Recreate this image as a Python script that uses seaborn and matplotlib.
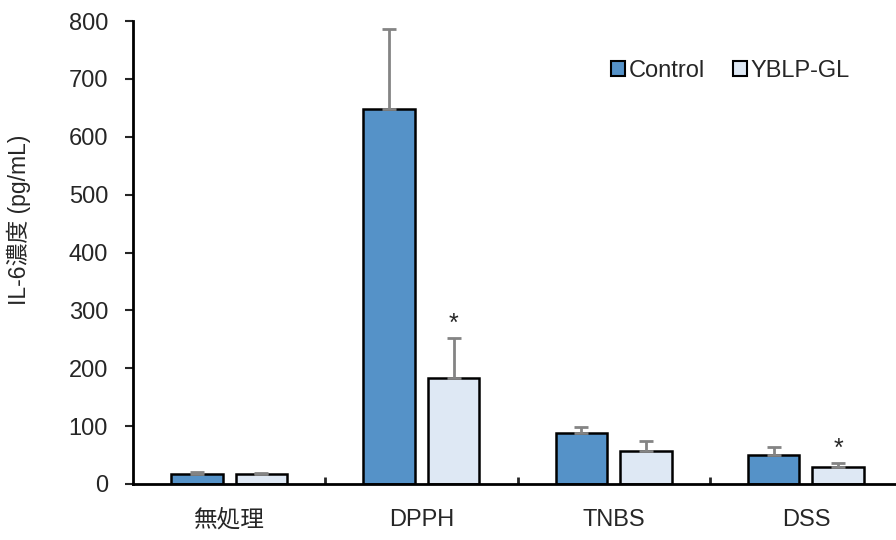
import matplotlib
matplotlib.use("Agg")
import matplotlib.pyplot as plt
import matplotlib.patches as mpatches
import numpy as np
import pandas as pd
import seaborn as sns

# Data
groups = ["無処理", "DPPH", "TNBS", "DSS"]
series = ["Control", "YBLP-GL"]
control_mean = [17, 648, 88, 50]
control_sd = [3, 138, 10, 14]
yblp_mean = [17, 183, 57, 29]
yblp_sd = [2, 69, 17, 7]
significant = [False, True, False, True]  # YBLP-GL vs Control

colors = {"Control": "#5592C8", "YBLP-GL": "#DEE8F4"}

df = pd.DataFrame({
    "group": groups * 2,
    "series": [series[0]] * 4 + [series[1]] * 4,
    "value": control_mean + yblp_mean,
    "sd": control_sd + yblp_sd,
})

sns.set_style("white")
plt.rcParams["font.family"] = ["Liberation Sans", "Noto Sans CJK JP"]

fig = plt.figure(figsize=(8.96, 5.4), dpi=100)
ax = fig.add_axes([133 / 896, 56 / 540, 769 / 896, 463 / 540])

sns.barplot(data=df, x="group", y="value", hue="series", order=groups,
            hue_order=series, palette=colors, width=0.67, gap=0.2,
            edgecolor="black", linewidth=1.8, saturation=1, errorbar=None,
            legend=False, ax=ax)

# error bars (upper only), taken from patch positions
for i, s in enumerate(series):
    means = control_mean if i == 0 else yblp_mean
    sds = control_sd if i == 0 else yblp_sd
    cont = ax.containers[i]
    xs = [p.get_x() + p.get_width() / 2 for p in cont]
    ax.errorbar(xs, means, yerr=[np.zeros(len(sds)), sds], fmt="none",
                ecolor="#848484", elinewidth=2, capsize=5, capthick=2, zorder=1)
    if i == 1:
        for x, m, sd, sig in zip(xs, means, sds, significant):
            if sig:
                ax.text(x, m + sd + 24, "*", ha="center", va="center", fontsize=18)

ax.set_xlim(-0.5, 3.5)
ax.set_ylim(0, 800)
ax.set_yticks(range(0, 801, 100))
ax.set_xlabel("")
ax.set_ylabel("IL-6濃度 (pg/mL)", fontsize=16.5)
ax.yaxis.set_label_coords(-0.133, 0.57)

for side in ["top", "right"]:
    ax.spines[side].set_visible(False)
for side in ["left", "bottom"]:
    ax.spines[side].set_linewidth(2)
    ax.spines[side].set_color("black")

ax.tick_params(axis="y", direction="out", length=6, width=1.5, labelsize=17, pad=12, left=True)
ax.tick_params(axis="x", which="major", length=0, labelsize=17, pad=18)
ax.set_xticks([0.5, 1.5, 2.5], minor=True)
ax.tick_params(axis="x", which="minor", direction="in", length=5, width=2, bottom=True)

handles = [mpatches.Patch(facecolor=colors[s], edgecolor="black", linewidth=1.5, label=s)
           for s in series]
ax.legend(handles=handles, loc="center right", bbox_to_anchor=(0.96, 0.892), ncol=2,
          frameon=False, fontsize=17, handlelength=0.6, handleheight=0.6,
          handletextpad=0.15, columnspacing=1.2)

fig.savefig("out.png", dpi=100)
